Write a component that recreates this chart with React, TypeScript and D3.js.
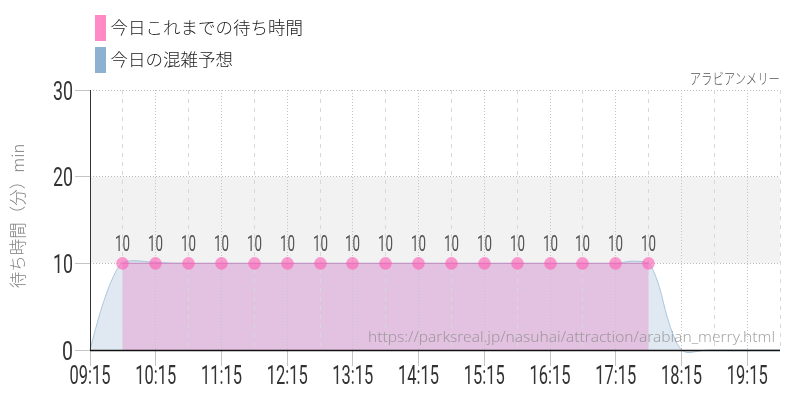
import React from "react";
import * as d3 from "d3";

const slots = [
  "09:15", "09:45", "10:15", "10:45", "11:15", "11:45", "12:15", "12:45",
  "13:15", "13:45", "14:15", "14:45", "15:15", "15:45", "16:15", "16:45",
  "17:15", "17:45", "18:15", "18:45", "19:15", "19:45",
];
const forecastTimes = [
  "09:15", "09:25", "09:35", "09:45", "09:55", "10:15", "10:45", "11:15", "11:45",
  "12:15", "12:45", "13:15", "13:45", "14:15", "14:45", "15:15", "15:45", "16:15",
  "16:45", "17:15", "17:30", "17:40", "17:45", "17:51", "17:55", "18:02", "18:14",
  "18:21", "18:32", "18:41", "19:15", "19:45",
];
const forecast = [
  0, 4.6, 8.1, 10.1, 10.3, 10.1, 10, 10, 10,
  10, 10, 10, 10, 10, 10, 10, 10, 10,
  10, 10, 10.25, 10.2, 10, 8.65, 7.2, 3.8, 0.2,
  -0.3, -0.1, 0, 0, 0,
];
const waitTimes = slots.slice(1, 18);
const waits = [10, 10, 10, 10, 10, 10, 10, 10, 10, 10, 10, 10, 10, 10, 10, 10, 10];
const yTicks = [0, 10, 20, 30];
const legendItems = ["今日これまでの待ち時間", "今日の混雑予想"];
const legendColors = ["#ff8ac6", "#8fb1d0"];
const title = "アラビアンメリー";
const yTitle = "待ち時間（分）min";
const sourceUrl = "https://parksreal.jp/nasuhai/attraction/arabian_merry.html";

const W = 800;
const H = 400;
const left = 90;
const right = 780;
const top = 90;
const bottom = 350;
const jp = "'Noto Sans CJK JP', sans-serif";
const num = "Roboto, sans-serif";

const toMinutes = (s: string) => +s.slice(0, 2) * 60 + +s.slice(3);

const App = () => {
  const x = d3.scaleLinear().domain([toMinutes("09:15"), toMinutes("19:45")]).range([left, right]);
  const y = d3.scaleLinear().domain([0, 30]).range([bottom, top]);
  const px = (s: string) => x(toMinutes(s));
  const crisp = (v: number) => Math.floor(v) + 0.5;

  const forecastArea = d3.area<number>()
    .x((_, i) => px(forecastTimes[i]))
    .y0(y(0))
    .y1(d => y(d))
    .curve(d3.curveMonotoneX);
  const forecastLine = d3.line<number>()
    .x((_, i) => px(forecastTimes[i]))
    .y(d => y(d))
    .curve(d3.curveMonotoneX);
  const waitX = (i: number) => crisp(px(waitTimes[i]));
  const waitArea = d3.area<number>().x((_, i) => waitX(i)).y0(y(0)).y1(d => y(d));
  const waitLine = d3.line<number>().x((_, i) => waitX(i)).y(d => y(d));

  return (
    <svg width={W} height={H} style={{ position: "absolute", left: 0, top: 0, background: "#fff" }}>
      <g opacity={0.999}>
        {legendItems.map((t, i) => (
          <g key={t}>
            <rect x={95} y={15 + i * 32} width={11} height={26} fill={legendColors[i]} />
            <text x={110.5} y={34 + i * 32} fontFamily={jp} fontWeight={300} fontSize={17.5} fill="#222">{t}</text>
          </g>
        ))}
        <text transform="translate(780,84) scale(0.76,1)" textAnchor="end" fontFamily={jp} fontWeight={300} fontSize={15} fill="#555">{title}</text>
        <text transform={`translate(24,${y(0) - 134}) rotate(-90)`} textAnchor="middle" fontFamily={jp} fontWeight={300}
          fontSize={16.5} fill="#808080">{yTitle}</text>

        <rect x={left} y={y(20)} width={right - left} height={y(10) - y(20)} fill="#f2f2f2" />

        <path d={forecastArea(forecast) ?? ""} fill="#8fb1d0" fillOpacity={0.28} />
        <path d={waitArea(waits) ?? ""} fill="#e584c7" fillOpacity={0.4} />

        {yTicks.map(t => (
          <g key={t}>
            <line x1={75} x2={left} y1={crisp(y(t))} y2={crisp(y(t))} stroke="#c4c4c4" />
            {t > 0 && (
              <line x1={left} x2={right} y1={crisp(y(t))} y2={crisp(y(t))} stroke="#bbb" strokeDasharray="1 2" />
            )}
            <text x={73} y={y(t) + 9.5} textAnchor="end" fontFamily={num} fontWeight={400} fontSize={26} fill="#333"
              textLength={t === 0 ? 11 : 20} lengthAdjust="spacingAndGlyphs">{t}</text>
          </g>
        ))}

        {slots.map((s, i) => (
          <g key={s}>
            {i > 0 && (
              <line x1={crisp(px(s))} x2={crisp(px(s))} y1={top} y2={bottom}
                stroke={i % 2 ? "#d8d8d8" : "#c4c4c4"} strokeDasharray={i % 2 ? "4 5" : "1 2"} />
            )}
            {i % 2 === 0 && (
              <>
                <line x1={crisp(px(s))} x2={crisp(px(s))} y1={bottom} y2={366} stroke="#c4c4c4" />
                <text x={px(s)} y={384} textAnchor="middle" fontFamily={num} fontWeight={400} fontSize={25} fill="#333"
                  textLength={41} lengthAdjust="spacingAndGlyphs">{s}</text>
              </>
            )}
          </g>
        ))}

        <path d={forecastLine(forecast) ?? ""} fill="none" stroke="#a9c6de" strokeWidth={1} />
        <path d={waitLine(waits) ?? ""} fill="none" stroke="#c98cc0" strokeWidth={1} />

        <line x1={left + 0.5} x2={left + 0.5} y1={top} y2={bottom} stroke="#333" />
        <line x1={left} x2={right} y1={bottom + 0.5} y2={bottom + 0.5} stroke="#111" strokeWidth={1.3} />

        {waits.map((v, i) => (
          <g key={i}>
            <circle cx={waitX(i)} cy={y(v)} r={6.3} fill="#ff5cb4" fillOpacity={0.6} />
            <text x={waitX(i)} y={y(v) - 12.5} textAnchor="middle" fontFamily={num} fontWeight={400} fontSize={21.5} fill="#555"
              textLength={15} lengthAdjust="spacingAndGlyphs">{v}</text>
          </g>
        ))}

        <text x={775} y={342} textAnchor="end" fontFamily="'Noto Sans', sans-serif" fontWeight={300} fontSize={14.5} fill="#888"
          fillOpacity={0.75} textLength={407} lengthAdjust="spacingAndGlyphs">{sourceUrl}</text>
      </g>
    </svg>
  );
};

export default App;
